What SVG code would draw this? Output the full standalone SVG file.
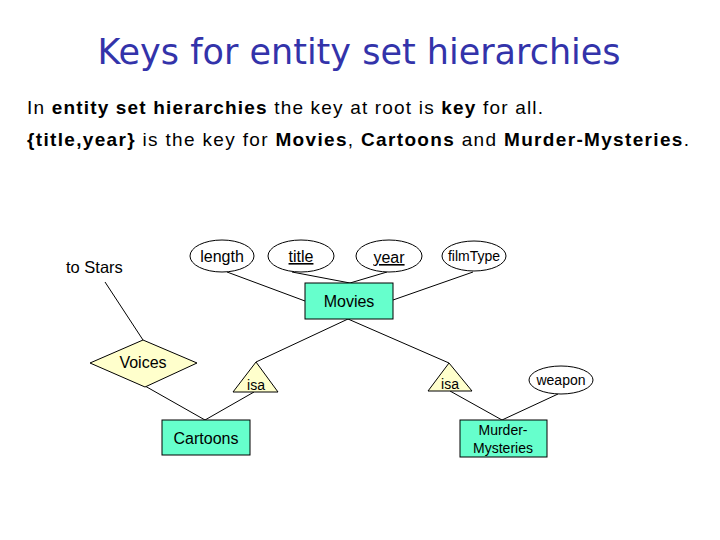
<svg xmlns="http://www.w3.org/2000/svg" width="720" height="540" viewBox="0 0 720 540">
<style>
.t{font-family:"Liberation Sans",Arial,sans-serif;fill:#000}
.lbl{font-size:16px;text-anchor:middle}
.sm{font-size:14px;text-anchor:middle}
.ent{fill:#66ffcc;stroke:#000;stroke-width:1}
.rel{fill:#ffffcc;stroke:#000;stroke-width:1}
.att{fill:#fff;stroke:#000;stroke-width:1}
.con line{stroke:#000;stroke-width:1}
</style>
<rect width="720" height="540" fill="#fff"/>
<text x="359" y="64" font-family="'DejaVu Sans',Verdana,sans-serif" font-size="35" fill="#3333aa" text-anchor="middle">Keys for entity set hierarchies</text>
<text class="t" x="27" y="114" font-size="19" textLength="516" lengthAdjust="spacing">In <tspan font-weight="bold">entity set hierarchies</tspan> the key at root is <tspan font-weight="bold">key</tspan> for all.</text>
<text class="t" x="27" y="146" font-size="19" textLength="662" lengthAdjust="spacing"><tspan font-weight="bold">{title,year}</tspan> is the key for <tspan font-weight="bold">Movies</tspan>, <tspan font-weight="bold">Cartoons</tspan> and <tspan font-weight="bold">Murder-Mysteries</tspan>.</text>
<g class="con">
<line x1="227" y1="272" x2="305" y2="301"/>
<line x1="292" y1="272" x2="350" y2="283"/>
<line x1="387" y1="272" x2="350" y2="283"/>
<line x1="473" y1="272" x2="393" y2="300"/>
<line x1="105" y1="282" x2="143" y2="340"/>
<line x1="145" y1="386" x2="205" y2="420"/>
<line x1="348" y1="319" x2="256" y2="362"/>
<line x1="254" y1="392" x2="205" y2="420"/>
<line x1="348" y1="319" x2="449" y2="363"/>
<line x1="450" y1="391" x2="502" y2="420"/>
<line x1="558" y1="394" x2="502" y2="420"/>
</g>
<g id="toStars"><text class="t" x="66" y="273" font-size="16.5">to Stars</text></g>
<g id="length"><ellipse class="att" cx="222" cy="256" rx="32" ry="16"/><text class="t lbl" x="222" y="262">length</text></g>
<g id="title"><ellipse class="att" cx="301" cy="256" rx="33" ry="16"/><text class="t lbl" x="301" y="262" text-decoration="underline">title</text></g>
<g id="year"><ellipse class="att" cx="389" cy="256" rx="33" ry="16"/><text class="t lbl" x="389" y="263" text-decoration="underline">year</text></g>
<g id="filmType"><ellipse class="att" cx="474" cy="256" rx="32" ry="15"/><text class="t sm" x="474" y="261">filmType</text></g>
<g id="movies"><rect class="ent" x="305" y="283" width="88" height="36"/><text class="t lbl" x="349" y="307">Movies</text></g>
<g id="voices"><polygon class="rel" points="90,363 143,340 197,363 145,387"/><text class="t lbl" x="143" y="368">Voices</text></g>
<g id="isa1"><polygon class="rel" points="256,362 278,392 233,392"/><text class="t sm" x="256" y="390">isa</text></g>
<g id="isa2"><polygon class="rel" points="449,363 472,391 428,391"/><text class="t sm" x="450" y="389">isa</text></g>
<g id="weapon"><ellipse class="att" cx="561" cy="380" rx="32" ry="14"/><text class="t sm" x="561" y="385">weapon</text></g>
<g id="cartoons"><rect class="ent" x="162" y="420" width="88" height="35"/><text class="t lbl" x="206" y="444">Cartoons</text></g>
<g id="murder"><rect class="ent" x="460" y="420" width="87" height="37"/><text class="t sm" x="503" y="435">Murder-</text><text class="t sm" x="503" y="453">Mysteries</text></g>
</svg>
